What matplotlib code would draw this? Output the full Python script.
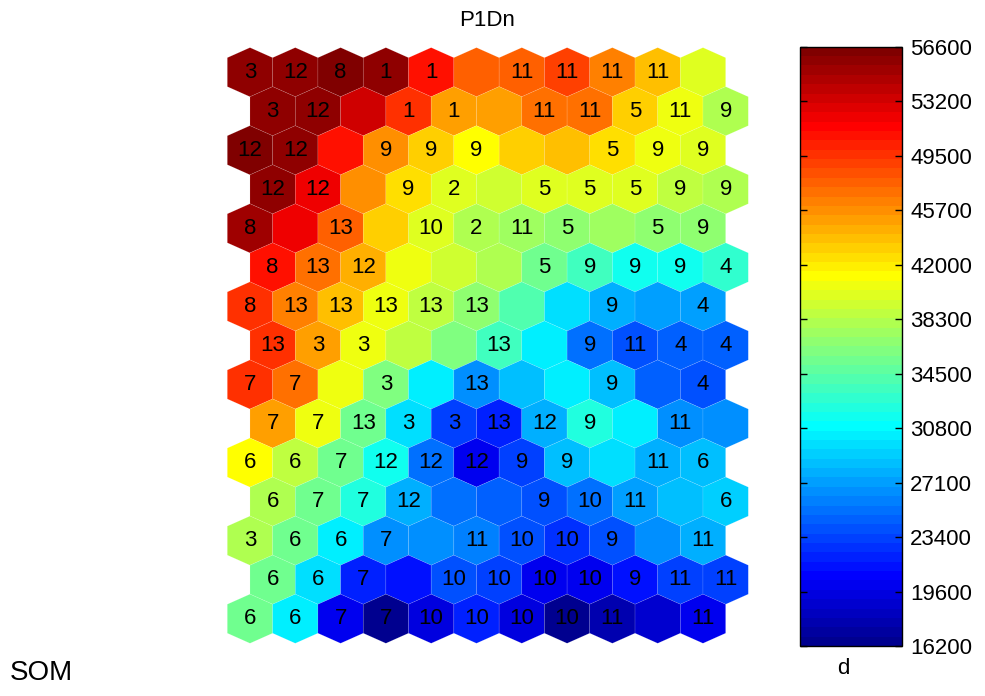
# SOM component plane for variable d
import numpy as np
import matplotlib.pyplot as plt
from matplotlib.collections import PolyCollection
from matplotlib.colors import Normalize, ListedColormap

plt.rcParams['font.family'] = ['Liberation Sans', 'DejaVu Sans']
plt.rcParams['font.size'] = 16

# unit values, one list per map row (top to bottom), 11 units per row
row_01 = [55600, 55600, 56600, 55800, 50700, 47200, 47600, 48400, 46400, 43700, 39600]
row_02 = [55600, 55400, 53000, 49200, 45200, 45200, 46500, 46500, 43300, 40200, 38000]
row_03 = [56600, 55600, 50700, 45600, 42900, 41400, 43000, 43700, 42300, 40200, 39600]
row_04 = [55600, 51600, 45600, 42500, 40000, 39200, 39600, 40000, 39600, 38300, 38000]
row_05 = [54900, 51600, 47200, 42900, 40000, 38000, 37300, 36900, 37300, 36900, 36700]
row_06 = [50300, 46800, 44000, 40800, 39200, 38000, 35300, 33400, 31800, 31800, 33000]
row_07 = [49200, 46400, 43700, 40800, 38500, 36400, 34500, 30000, 27900, 27500, 27100]
row_08 = [49200, 44800, 40200, 38500, 36000, 33700, 30700, 25200, 24300, 24700, 24700]
row_09 = [49200, 46800, 40200, 36000, 30700, 26800, 28300, 30700, 28300, 24700, 24000]
row_10 = [44800, 40200, 35300, 29600, 23600, 22100, 27900, 32400, 30300, 26800, 26400]
row_11 = [41400, 38800, 35300, 31350, 25600, 20200, 23600, 28300, 30000, 27900, 28700]
row_12 = [38000, 35300, 32000, 27900, 25200, 24700, 24300, 25200, 27100, 28700, 29200]
row_13 = [38000, 35300, 30700, 26400, 26800, 25900, 24300, 22800, 24300, 26400, 27900]
row_14 = [35300, 29600, 22500, 21250, 24300, 23600, 20600, 20300, 21400, 23600, 23600]
row_15 = [35300, 30300, 20200, 16300, 19800, 22500, 19500, 16600, 17500, 18800, 20200]

# hit labels on the units ('' = no label)
lab_01 = ['3', '12', '8', '1', '1', '', '11', '11', '11', '11', '']
lab_02 = ['3', '12', '', '1', '1', '', '11', '11', '5', '11', '9']
lab_03 = ['12', '12', '', '9', '9', '9', '', '', '5', '9', '9']
lab_04 = ['12', '12', '', '9', '2', '', '5', '5', '5', '9', '9']
lab_05 = ['8', '', '13', '', '10', '2', '11', '5', '', '5', '9']
lab_06 = ['8', '13', '12', '', '', '', '5', '9', '9', '9', '4']
lab_07 = ['8', '13', '13', '13', '13', '13', '', '', '9', '', '4']
lab_08 = ['13', '3', '3', '', '', '13', '', '9', '11', '4', '4']
lab_09 = ['7', '7', '', '3', '', '13', '', '', '9', '', '4']
lab_10 = ['7', '7', '13', '3', '3', '13', '12', '9', '', '11', '']
lab_11 = ['6', '6', '7', '12', '12', '12', '9', '9', '', '11', '6']
lab_12 = ['6', '7', '7', '12', '', '', '9', '10', '11', '', '6']
lab_13 = ['3', '6', '6', '7', '', '11', '10', '10', '9', '', '11']
lab_14 = ['6', '6', '7', '', '10', '10', '10', '10', '9', '11', '11']
lab_15 = ['6', '6', '7', '7', '10', '10', '10', '10', '11', '', '11']

cbar_ticklabels = ['16200', '19600', '23400', '27100', '30800', '34500',
                   '38300', '42000', '45700', '49500', '53200', '56600']
vmin, vmax = 16200, 56600

values = [row_01, row_02, row_03, row_04, row_05, row_06, row_07, row_08,
          row_09, row_10, row_11, row_12, row_13, row_14, row_15]
labels = [lab_01, lab_02, lab_03, lab_04, lab_05, lab_06, lab_07, lab_08,
          lab_09, lab_10, lab_11, lab_12, lab_13, lab_14, lab_15]


def matlab_jet(n=64):
    # same construction as MATLAB's jet(n)
    m = int(np.ceil(n / 4))
    u = np.concatenate([np.arange(1, m + 1) / m, np.ones(m - 1), np.arange(m, 0, -1) / m])
    g = int(np.ceil(m / 2)) - (1 if n % 4 == 1 else 0) + np.arange(1, len(u) + 1)
    r = g + m
    b = g - m
    g = g[g <= n]
    r = r[r <= n]
    b = b[b >= 1]
    J = np.zeros((n, 3))
    J[r - 1, 0] = u[:len(r)]
    J[g - 1, 1] = u[:len(g)]
    J[b - 1, 2] = u[len(u) - len(b):]
    return ListedColormap(J)


# hexagon shape (pointy top), rows spaced sqrt(3)/2
dy = np.sqrt(3) / 2
r, s = 0.545, dy - 0.545
hex_shape = np.array([[0, r], [0.5, s], [0.5, -s], [0, -r], [-0.5, -s], [-0.5, s]])

verts, cvals, centers = [], [], []
for i, row in enumerate(values):
    for j, v in enumerate(row):
        cx = j + (0.5 if i % 2 else 0.0)
        cy = -i * dy
        verts.append(hex_shape + [cx, cy])
        cvals.append(v)
        centers.append((cx, cy, labels[i][j]))

W, H = 985, 696
fig = plt.figure(figsize=(W / 100, H / 100), dpi=100)

# map axes placed so that hexes land where they are in the picture
x0, x1 = -0.6, 11.1
y0, y1 = -14 * dy - 0.7, 0.7
left_px, top_px = 222.8, 40.6
w_px = (x1 - x0) * 45.3
h_px = (y1 - y0) * 45.08
ax = fig.add_axes([left_px / W, 1 - (top_px + h_px) / H, w_px / W, h_px / H])

cmap = matlab_jet(64)
norm = Normalize(vmin, vmax)
pc = PolyCollection(verts, array=np.array(cvals), cmap=cmap, norm=norm,
                    edgecolors=(1, 1, 1, 0.2), linewidths=0.4)
ax.add_collection(pc)
for cx, cy, t in centers:
    if t:
        ax.text(cx, cy, t, ha='center', va='center', fontsize=16, color='black')
ax.set_xlim(x0, x1)
ax.set_ylim(y0, y1)
ax.axis('off')

# colorbar
cb_l, cb_r, cb_t, cb_b = 800, 902, 46.7, 646
cax = fig.add_axes([cb_l / W, 1 - cb_b / H, (cb_r - cb_l) / W, (cb_b - cb_t) / H])
cb = fig.colorbar(pc, cax=cax)
cb.set_ticks(np.linspace(vmin, vmax, len(cbar_ticklabels)))
cb.set_ticklabels(cbar_ticklabels)
cax.tick_params(axis='y', direction='in', left=True, right=True, length=5,
                width=1, labelsize=16, pad=6)
cb.outline.set_linewidth(1)
cax.text(0.42, -0.037, 'd', transform=cax.transAxes, ha='center', va='center', fontsize=16)

fig.text(487.5 / W, 1 - 21 / H, 'P1Dn', ha='center', va='center', fontsize=16)
fig.text(10 / W, 1 - 673 / H, 'SOM', ha='left', va='center', fontsize=20)

fig.savefig('out.png', dpi=100)
